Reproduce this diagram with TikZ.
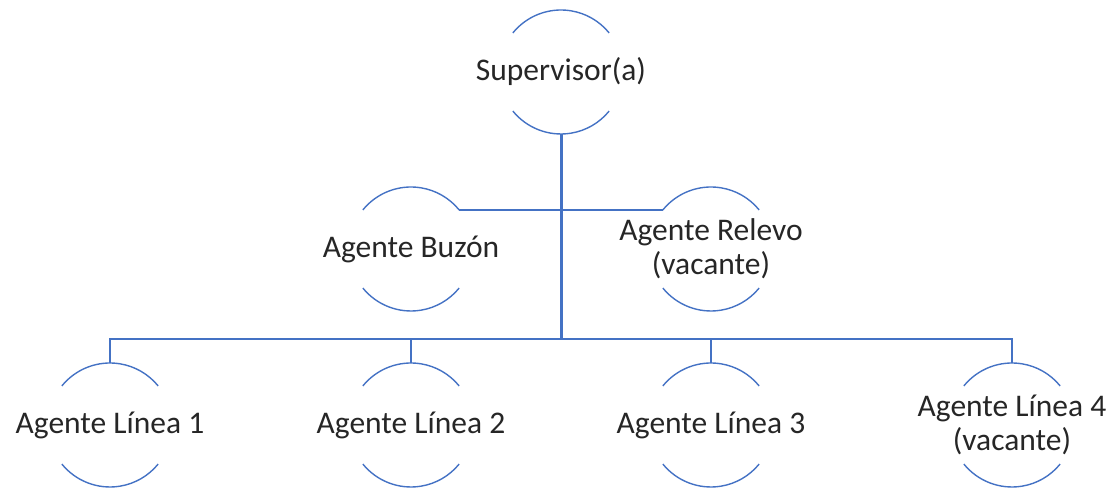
\documentclass[tikz,border=0pt]{standalone}
\usepackage{fontspec}
\setmainfont{Carlito}
\definecolor{accent}{RGB}{68,114,196}
\begin{document}
\begin{tikzpicture}[x=1pt, y=1pt, main node/.style={circle,minimum size=124pt,inner sep=0pt,outer sep=0pt}, text node/.style={inner sep=0pt,text=black!85,font=\fontsize{31.5}{34}\selectfont,align=center}, ring/.style={accent,line width=1.4pt}, link/.style={accent,line width=2pt}]
\useasboundingbox (0,0) rectangle (1112,489);
\begin{scope}
\node[main node] (sup) at (561,417) {};
\node[main node] (buzon) at (411,240) {};
\node[main node] (relevo) at (711,240) {};
\node[main node] (l1) at (110,64) {};
\node[main node] (l2) at (411,64) {};
\node[main node] (l3) at (711,64) {};
\node[main node] (l4) at (1012,64) {};
\coordinate (bus) at (561,150);
\end{scope}
\begin{scope}[every node/.style={text node}]
\node (supT) at (sup) {Supervisor(a)};
\node (buzonT) at (buzon) {Agente Buzón};
\node (relevoT) at (relevo) {Agente Relevo\\(vacante)};
\node (l1T) at (l1) {Agente Línea 1};
\node (l2T) at (l2) {Agente Línea 2};
\node (l3T) at (l3) {Agente Línea 3};
\node (l4T) at (l4) {Agente Línea 4\\(vacante)};
\end{scope}
\begin{scope}
\foreach \n in {sup,buzon,relevo,l1,l2,l3,l4} {
  \draw[ring] (\n.141) arc[start angle=141, end angle=39, radius=62];
  \draw[ring] (\n.219) arc[start angle=219, end angle=321, radius=62];
}
\draw[link] (buzon.39) -- (relevo.141);
\draw[link] (l1.north) |- (bus) -| (l4.north);
\draw[link] (l2.north) -- (l2.north |- bus);
\draw[link] (l3.north) -- (l3.north |- bus);
\draw[link, line width=3pt] (sup.south) -- (bus);
\end{scope}
\end{tikzpicture}
\end{document}
